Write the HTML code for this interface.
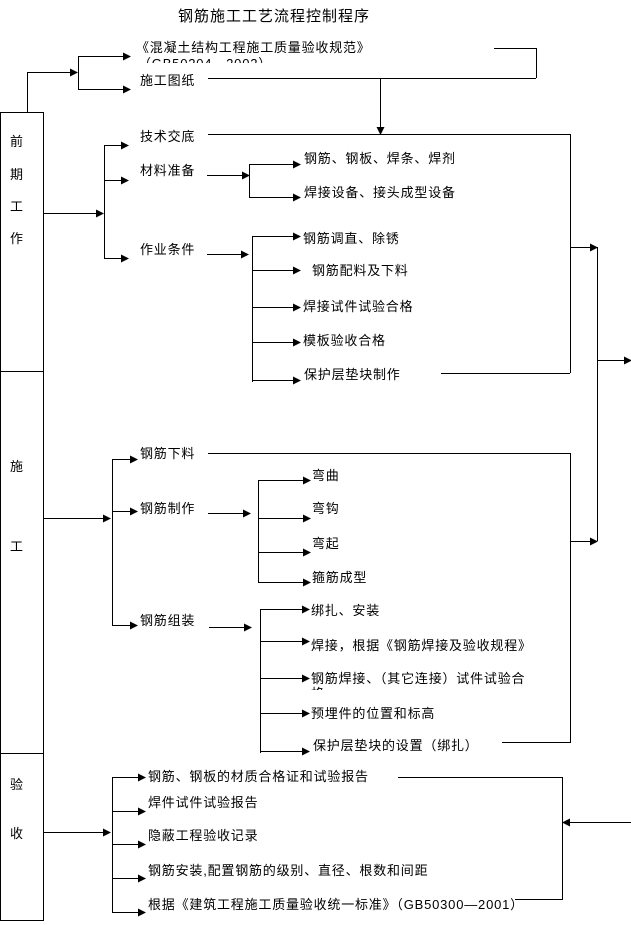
<!DOCTYPE html>
<html><head><meta charset="utf-8"><style>
html,body{margin:0;padding:0;background:#fff;}
svg{display:block;}
text{font-family:"Liberation Sans","Noto Sans CJK SC",sans-serif;font-size:13px;fill:#000;letter-spacing:0.8px;}
</style></head><body>
<svg width="631" height="925" viewBox="0 0 631 925" xmlns="http://www.w3.org/2000/svg">
<defs>
<marker id="a" markerWidth="8" markerHeight="8" refX="7" refY="4" orient="auto" markerUnits="userSpaceOnUse">
<path d="M0,0 L8,4 L0,8 z" fill="#000"/></marker>
<clipPath id="c1"><rect x="0" y="0" width="631" height="63"/></clipPath>
<clipPath id="c2"><rect x="0" y="0" width="631" height="690"/></clipPath>
</defs>
<g stroke="#000" stroke-width="1" fill="none">
<rect x="0.5" y="112.5" width="43" height="808"/>
<line x1="0" y1="371.5" x2="43" y2="371.5"/>
<line x1="0" y1="753.5" x2="43" y2="753.5"/>
<polyline points="27.5,112 27.5,72.5 77,72.5" marker-end="url(#a)"/>
<line x1="78.5" y1="56" x2="78.5" y2="89"/>
<line x1="78" y1="56.5" x2="130" y2="56.5" marker-end="url(#a)"/>
<line x1="78" y1="89.5" x2="130" y2="89.5" marker-end="url(#a)"/>
<line x1="208" y1="78.5" x2="536" y2="78.5"/>
<polyline points="494,48.5 536.5,48.5 536.5,78"/>
<line x1="380.5" y1="78" x2="380.5" y2="134" marker-end="url(#a)"/>
<polyline points="208,134.5 570.5,134.5 570.5,373"/>
<line x1="441" y1="373.5" x2="570" y2="373.5"/>
<line x1="570" y1="247.5" x2="597" y2="247.5" marker-end="url(#a)"/>
<line x1="597.5" y1="247" x2="597.5" y2="541"/>
<line x1="597" y1="360.5" x2="631" y2="360.5" marker-end="url(#a)"/>
<polyline points="208,453.5 570.5,453.5 570.5,742.5 502,742.5"/>
<line x1="570" y1="541.5" x2="597" y2="541.5" marker-end="url(#a)"/>
<line x1="43" y1="213.5" x2="103" y2="213.5" marker-end="url(#a)"/>
<line x1="104.5" y1="145" x2="104.5" y2="258"/>
<line x1="104" y1="145.5" x2="128" y2="145.5" marker-end="url(#a)"/>
<line x1="104" y1="180.5" x2="128" y2="180.5" marker-end="url(#a)"/>
<line x1="104" y1="258.5" x2="128" y2="258.5" marker-end="url(#a)"/>
<line x1="207" y1="175.5" x2="249" y2="175.5" marker-end="url(#a)"/>
<line x1="249.5" y1="164" x2="249.5" y2="197"/>
<line x1="249" y1="164.5" x2="300" y2="164.5" marker-end="url(#a)"/>
<line x1="249" y1="197.5" x2="300" y2="197.5" marker-end="url(#a)"/>
<line x1="207" y1="254.5" x2="248" y2="254.5" marker-end="url(#a)"/>
<line x1="252.5" y1="236" x2="252.5" y2="382"/>
<line x1="252" y1="236.5" x2="300" y2="236.5" marker-end="url(#a)"/>
<line x1="252" y1="270.5" x2="300" y2="270.5" marker-end="url(#a)"/>
<line x1="252" y1="307.5" x2="300" y2="307.5" marker-end="url(#a)"/>
<line x1="252" y1="342.5" x2="300" y2="342.5" marker-end="url(#a)"/>
<line x1="252" y1="380.5" x2="300" y2="380.5" marker-end="url(#a)"/>
<line x1="43" y1="518.5" x2="110" y2="518.5" marker-end="url(#a)"/>
<line x1="112.5" y1="459" x2="112.5" y2="625"/>
<line x1="112" y1="459.5" x2="137" y2="459.5" marker-end="url(#a)"/>
<line x1="112" y1="511.5" x2="137" y2="511.5" marker-end="url(#a)"/>
<line x1="112" y1="625.5" x2="137" y2="625.5" marker-end="url(#a)"/>
<line x1="208" y1="513.5" x2="250" y2="513.5" marker-end="url(#a)"/>
<line x1="258.5" y1="480" x2="258.5" y2="582"/>
<line x1="258" y1="480.5" x2="310" y2="480.5" marker-end="url(#a)"/>
<line x1="258" y1="518.5" x2="310" y2="518.5" marker-end="url(#a)"/>
<line x1="258" y1="552.5" x2="310" y2="552.5" marker-end="url(#a)"/>
<line x1="258" y1="582.5" x2="310" y2="582.5" marker-end="url(#a)"/>
<line x1="209" y1="627.5" x2="251" y2="627.5" marker-end="url(#a)"/>
<line x1="260.5" y1="609" x2="260.5" y2="753"/>
<line x1="260" y1="609.5" x2="309" y2="609.5" marker-end="url(#a)"/>
<line x1="260" y1="641.5" x2="309" y2="641.5" marker-end="url(#a)"/>
<line x1="260" y1="678.5" x2="309" y2="678.5" marker-end="url(#a)"/>
<line x1="260" y1="713.5" x2="309" y2="713.5" marker-end="url(#a)"/>
<line x1="260" y1="751.5" x2="309" y2="751.5" marker-end="url(#a)"/>
<line x1="43" y1="832.5" x2="110" y2="832.5" marker-end="url(#a)"/>
<line x1="112.5" y1="777" x2="112.5" y2="912"/>
<line x1="112" y1="777.5" x2="145" y2="777.5" marker-end="url(#a)"/>
<line x1="112" y1="811.5" x2="145" y2="811.5" marker-end="url(#a)"/>
<line x1="112" y1="844.5" x2="145" y2="844.5" marker-end="url(#a)"/>
<line x1="112" y1="878.5" x2="145" y2="878.5" marker-end="url(#a)"/>
<line x1="112" y1="912.5" x2="145" y2="912.5" marker-end="url(#a)"/>
<polyline points="398,777.5 562.5,777.5 562.5,899.5 515,899.5"/>
<line x1="631" y1="822.5" x2="563" y2="822.5" marker-end="url(#a)"/>
</g>
<text x="178" y="21" style="font-size:15px;letter-spacing:1px">钢筋施工工艺流程控制程序</text>
<text x="10" y="146">前</text><text x="10" y="179">期</text><text x="10" y="211">工</text><text x="10" y="243">作</text>
<text x="10" y="471">施</text><text x="10" y="551">工</text>
<text x="10" y="789">验</text><text x="10" y="838">收</text>
<g clip-path="url(#c1)"><text x="136" y="52">《混凝土结构工程施工质量验收规范》</text><text x="138" y="68">（GB50204—2002）</text></g>
<text x="140" y="85">施工图纸</text>
<text x="140" y="141">技术交底</text>
<text x="140" y="175">材料准备</text>
<text x="140" y="254">作业条件</text>
<text x="304" y="163">钢筋、钢板、焊条、焊剂</text>
<text x="304" y="197">焊接设备、接头成型设备</text>
<text x="303" y="243">钢筋调直、除锈</text>
<text x="312" y="275">钢筋配料及下料</text>
<text x="303" y="311">焊接试件试验合格</text>
<text x="303" y="345">模板验收合格</text>
<text x="304" y="379">保护层垫块制作</text>
<text x="140" y="458">钢筋下料</text>
<text x="140" y="513">钢筋制作</text>
<text x="140" y="625">钢筋组装</text>
<text x="312" y="480">弯曲</text>
<text x="312" y="513">弯钩</text>
<text x="312" y="548">弯起</text>
<text x="312" y="582">箍筋成型</text>
<text x="311" y="615">绑扎、安装</text>
<text x="311" y="650">焊接，根据《钢筋焊接及验收规程》</text>
<g clip-path="url(#c2)"><text x="311" y="683">钢筋焊接、（其它连接）试件试验合</text><text x="311" y="698">格</text></g>
<text x="311" y="718">预埋件的位置和标高</text>
<text x="313" y="750">保护层垫块的设置（绑扎）</text>
<text x="148" y="781">钢筋、钢板的材质合格证和试验报告</text>
<text x="148" y="807">焊件试件试验报告</text>
<text x="148" y="840">隐蔽工程验收记录</text>
<text x="148" y="875">钢筋安装,配置钢筋的级别、直径、根数和间距</text>
<text x="148" y="909">根据《建筑工程施工质量验收统一标准》（GB50300—2001）</text>
</svg>
</body></html>
